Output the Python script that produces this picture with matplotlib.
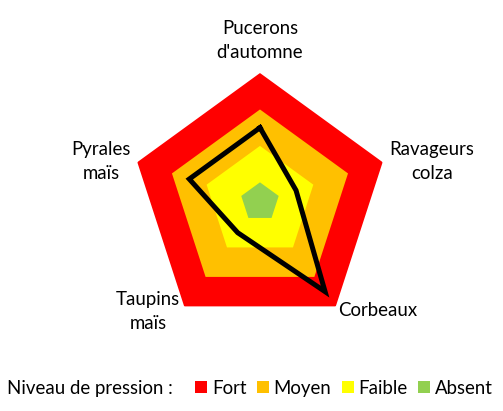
import numpy as np
import matplotlib
matplotlib.use('Agg')
import matplotlib.pyplot as plt
from matplotlib.patches import Patch

# --- Donnees -----------------------------------------------------------------
categories = ["Pucerons\nd'automne", "Ravageurs\ncolza", "Corbeaux", "Taupins\nmaïs", "Pyrales\nmaïs"]
pression = [2.5, 1.5, 3.5, 1.5, 2.5]

niveaux = ["Fort", "Moyen", "Faible", "Absent"]
niveaux_val = [4, 3, 2, 1]
couleurs = ["#FF0000", "#FFC000", "#FFFF00", "#92D050"]

plt.rcParams['font.family'] = ['Lato', 'DejaVu Sans']
fs = 13.4

fig = plt.figure(figsize=(5.03, 4.11), dpi=100)
ax = fig.add_axes([0.2604, 0.1946, 0.5129, 0.6277], projection='polar')
ax.set_theta_zero_location('N')
ax.set_theta_direction(-1)

theta = np.linspace(0, 2 * np.pi, len(categories), endpoint=False)
theta_c = np.append(theta, theta[0])

# zones de pression (du plus fort au plus faible)
for val, col in zip(niveaux_val, couleurs):
    ax.fill(theta_c, [val] * len(theta_c), color=col, lw=0, zorder=1)

# niveau observe
ax.plot(theta_c, pression + [pression[0]], color='black', lw=3.6,
        solid_joinstyle='miter', zorder=3)

ax.set_ylim(0.46, 4)
ax.set_axis_off()

# etiquettes des axes
decal = [(0, 33, 'center'), (49, 1, 'center'), (42, -4, 'center'),
         (-36, -5, 'center'), (-36, 1, 'center')]
for t, lab, (dx, dy, ha) in zip(theta, categories, decal):
    ax.annotate(lab, xy=(t, 4), xytext=(dx, dy), textcoords='offset pixels',
                ha=ha, va='center', fontsize=fs, linespacing=1.5,
                annotation_clip=False)

# legende
fig.text(7 / 503, 1 - 388 / 411, "Niveau de pression :", fontsize=fs, va='center')
handles = [Patch(facecolor=c, edgecolor='none') for c in couleurs]
fig.legend(handles, niveaux, ncol=4, loc='center left',
           bbox_to_anchor=(195 / 503, 1 - 388 / 411), frameon=False,
           fontsize=fs, handlelength=0.66, handleheight=0.66,
           handletextpad=0.25, columnspacing=0.55, borderpad=0, borderaxespad=0)

fig.savefig('out.png', dpi=100)
